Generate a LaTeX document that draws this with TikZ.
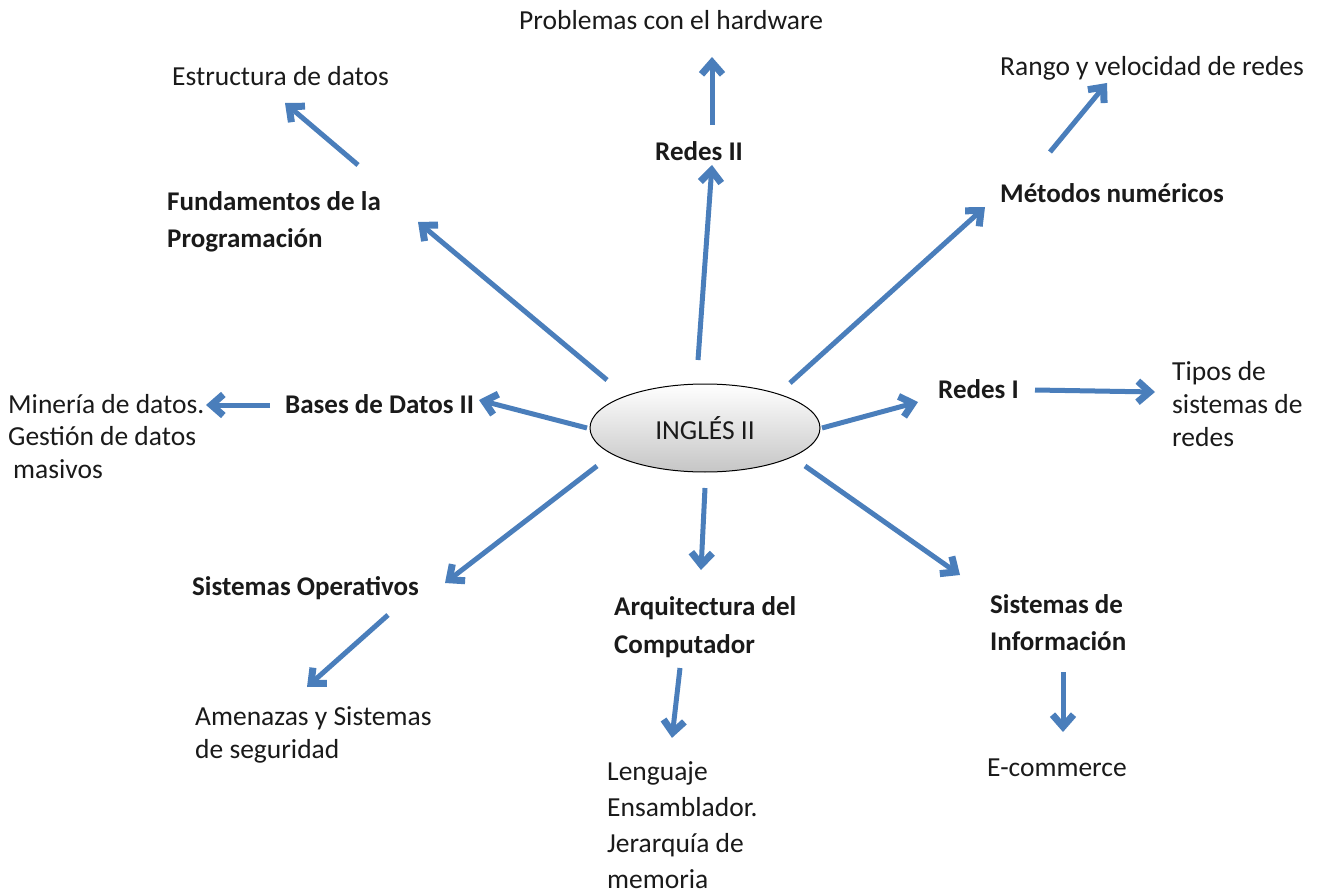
\documentclass[tikz,border=0pt]{standalone}
\usepackage{fontspec}
\setmainfont{Carlito}
\usetikzlibrary{arrows.meta,shapes.geometric,calc}
\definecolor{arrblue}{HTML}{4A7EBB}
\definecolor{txt}{HTML}{1A1A1A}
\begin{document}
\begin{tikzpicture}[x=1pt,y=-1pt,
  lbl/.style={anchor=base west,inner sep=0pt,text=txt,align=left,font=\fontsize{27.5}{33}\selectfont},
  blbl/.style={lbl,font=\fontsize{27}{37}\selectfont\bfseries},
  arr/.style={draw=arrblue,line width=5pt,-{Straight Barb[length=12pt,width=21pt,line width=7pt]}}]
\useasboundingbox (0,0) rectangle (1318,896);
\node[ellipse,draw=black,line width=1pt,shading=axis,top color=white,bottom color=gray!45,
  minimum width=230pt,minimum height=88pt,inner sep=0pt,text=txt,
  font=\fontsize{27.5}{30}\selectfont] (c) at (705,428) {INGLÉS II};
\node[lbl] (prob) at (519,30) {Problemas con el hardware};
\node[blbl] (r2) at (655,161) {Redes II};
\node[lbl] (estr) at (172,86) {Estructura de datos};
\node[blbl] (fund) at (167,248) {Fundamentos de la\\Programación};
\node[lbl] (rango) at (1000,76) {Rango y velocidad de redes};
\node[blbl] (met) at (1000,203) {Métodos numéricos};
\node[blbl] (bases) at (285,413) {Bases de Datos II};
\node[lbl,font=\fontsize{27.5}{32.5}\selectfont] (min) at (8,478) {Minería de datos.\\Gestión de datos\\\hspace*{5pt}masivos};
\node[blbl] (r1) at (938,398) {Redes I};
\node[lbl] (tipos) at (1172,446) {Tipos de\\sistemas de\\redes};
\node[blbl] (so) at (192,595) {Sistemas Operativos};
\node[lbl] (amen) at (195,758) {Amenazas y Sistemas\\de seguridad};
\node[blbl,font=\fontsize{27}{38}\selectfont\bfseries] (arq) at (614,653) {Arquitectura del\\Computador};
\node[lbl,font=\fontsize{27.5}{35.7}\selectfont] (leng) at (607,888) {Lenguaje\\Ensamblador.\\Jerarquía de\\memoria};
\node[blbl] (si) at (990,650) {Sistemas de\\Información};
\node[lbl] (ecom) at (987,776) {E-commerce};
% arrows
\draw[arr] ($(c.center)+(-7,-68)$) -- ($(r2.base west)+(57,4)$);
\draw[arr] ($(r2.base west)+(57,-36)$) -- ($(prob.base west)+(193,27)$);
\draw[arr] ($(c.center)+(-98,-48)$) -- ($(fund.base west)+(251,-26)$);
\draw[arr] ($(fund.base west)+(191,-83)$) -- ($(estr.base west)+(113,17)$);
\draw[arr] ($(c.center)+(85,-45)$) -- ($(met.base west)+(-15,4)$);
\draw[arr] ($(met.base west)+(50,-51)$) -- ($(rango.base west)+(107,7)$);
\draw[arr] ($(c.center)+(-118,0)$) -- ($(bases.base west)+(194,-13)$);
\draw[arr] ($(bases.base west)+(-15,-8)$) -- ($(min.base west)+(198,-73)$);
\draw[arr] ($(c.center)+(117,0)$) -- ($(r1.base west)+(-20,4)$);
\draw[arr] ($(r1.base west)+(97,-8)$) -- ($(tipos.base west)+(-17,-54)$);
\draw[arr] ($(c.center)+(-108,38)$) -- ($(so.base west)+(253,-12)$);
\draw[arr] ($(so.base west)+(196,20)$) -- ($(amen.base west)+(112,-71)$);
\draw[arr] ($(c.center)+(0,60)$) -- ($(arq.base west)+(87,-83)$);
\draw[arr] ($(arq.base west)+(66,15)$) -- ($(leng.base west)+(65,-150.1)$);
\draw[arr] ($(c.center)+(100,38)$) -- ($(si.base west)+(-30,-75)$);
\draw[arr] ($(si.base west)+(73,22)$) -- ($(ecom.base west)+(76,-44)$);
\end{tikzpicture}
\end{document}
